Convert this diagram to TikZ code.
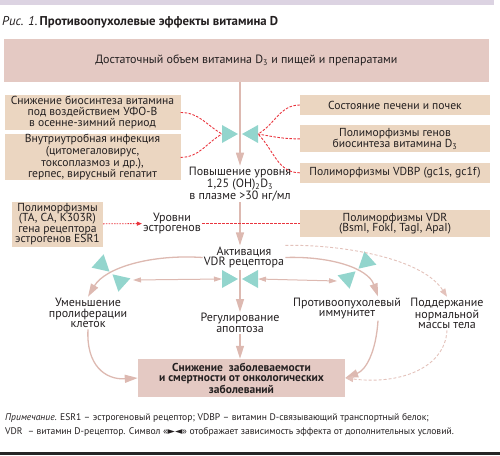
\documentclass[tikz,border=0pt]{standalone}
\usepackage{fontspec}
\setmainfont{PT Sans}
\newfontfamily\symfont{DejaVu Sans}
\usetikzlibrary{arrows.meta, positioning}

\definecolor{pinkbox}{HTML}{E4C9C3}
\definecolor{tanbox}{HTML}{EBD6C1}
\definecolor{arrowcol}{HTML}{DDB9B1}
\definecolor{faintcol}{HTML}{E3C2BB}
\definecolor{tealc}{HTML}{93D5CD}
\definecolor{redc}{HTML}{E9353E}
\definecolor{lilac}{HTML}{DCD3E2}
\definecolor{textc}{HTML}{231F20}

\begin{document}
\begin{tikzpicture}[x=1pt, y=-1pt,
  every node/.style={text=textc},
  box/.style={fill=tanbox, align=center, inner sep=0pt, font=\fontsize{11.6}{10.6}\selectfont},
  mainbox/.style={box, fill=pinkbox},
  txt/.style={align=center, inner sep=1pt, font=\fontsize{12}{10.8}\selectfont},
  arrow/.style={-{Triangle[length=13pt, width=8pt]}, line width=1.3pt, draw=arrowcol},
  twoway/.style={{Triangle[length=8pt, width=5pt]}-{Triangle[length=8pt, width=5pt]}, line width=1pt, draw=arrowcol},
  faint/.style={-{Triangle[length=8pt, width=6pt]}, line width=0.9pt, draw=faintcol, dash pattern=on 3pt off 2pt},
  link/.style={draw=redc, line width=0.9pt, dash pattern=on 2.5pt off 1.5pt},
  bowtie/.pic={
    \fill[tealc] (-18,-9) -- (-2,0) -- (-18,9) -- cycle;
    \fill[tealc] (18,-9) -- (2,0) -- (18,9) -- cycle;
    \coordinate (-l) at (-18,0);
    \coordinate (-r) at (18,0);
  },
]
  \useasboundingbox (0,0) rectangle (500,455);
  \fill[lilac] (0,0) rectangle (494,5);
  \fill[black!85] (0,452) rectangle (500,455);

  \node[anchor=west, inner sep=0pt, font=\fontsize{12.8}{14}\selectfont] (title) at (2,22)
    {\textit{Рис. 1.}\,\textbf{Противоопухолевые эффекты витамина D}};

  % source and modifying factors
  \node[mainbox, minimum width=485pt, minimum height=43pt, font=\fontsize{12}{12}\selectfont] (supply) at (246.5,60.5)
    {Достаточный объем витамина D\textsubscript{3} и пищей и препаратами};
  \node[box, minimum width=176pt, minimum height=35pt] (uvb) at (92.5,112.5)
    {Снижение биосинтеза витамина\\под воздействием УФО-В\\в осенне-зимний период};
  \node[box, minimum width=176pt, minimum height=45pt, below=4pt of uvb] (infect)
    {Внутриутробная инфекция\\(цитомегаловирус,\\токсоплазмоз и др.),\\герпес, вирусный гепатит};
  \node[box, minimum width=190pt, minimum height=20pt] (liver) at (395,105)
    {Состояние печени и почек};
  \node[box, minimum width=190pt, minimum height=27pt, below=10pt of liver] (genes)
    {Полиморфизмы генов\\биосинтеза витамина D\textsubscript{3}};
  \node[box, minimum width=190pt, minimum height=20pt, below=10pt of genes] (vdbp)
    {Полиморфизмы VDBP (gc1s, gc1f)};
  \node[txt, font=\fontsize{12}{11}\selectfont] (calcitriol) at (240,184)
    {Повышение уровня\\1,25 (OH)\textsubscript{2}D\textsubscript{3}\\в плазме >30 нг/мл};

  % receptor level
  \node[box, minimum width=91pt, minimum height=45pt] (esr) at (57.5,224)
    {Полиморфизмы\\(TA, CA, K303R)\\гена рецептора\\эстрогенов ESR1};
  \node[txt, font=\fontsize{12}{10.5}\selectfont] (estro) at (172,223.5) {Уровни\\эстрогенов};
  \node[box, minimum width=190pt, minimum height=27pt] (vdr) at (395,223.5)
    {Полиморфизмы VDR\\(BsmI, FokI, TagI, ApaI)};
  \node[txt] (activ) at (244,257.5) {Активация\\VDR рецептора};

  % effects
  \node[txt] (prolif) at (88,313) {Уменьшение\\пролиферации\\клеток};
  \node[txt] (apopt) at (240,323) {Регулирование\\апоптоза};
  \node[txt] (immun) at (347,308.5) {Противоопухолевый\\иммунитет};
  \node[txt] (weight) at (447,313.5) {Поддержание\\нормальной\\массы тела};
  \node[mainbox, minimum width=207pt, minimum height=38pt, font=\fontsize{11.5}{10.5}\selectfont\bfseries] (outcome) at (241.5,378)
    {Снижение\ \ заболеваемости\\и смертности от онкологических\\заболеваний};

  \node[anchor=north west, inner sep=0pt, align=left, font=\fontsize{9.6}{14}\selectfont] (note) at (5,413)
    {\textit{Примечание.} ESR1 – эстрогеновый рецептор; VDBP – витамин D-связывающий транспортный белок;\\
     VDR~ – витамин D-рецептор. Символ «{\symfont ►◄}» отображает зависимость эффекта от дополнительных условий.};

  % conditional symbols
  \pic (bt1) at (240,134) {bowtie};
  \pic (bt2) at (240,279) {bowtie};
  \pic[rotate=-42] (btL) at (111,273) {bowtie};
  \pic[rotate=42] (btR) at (357,270) {bowtie};
  \coordinate (proLink) at (133,280);
  \coordinate (immLink) at (337,281);

  % main chain
  \draw[arrow] (supply.south -| calcitriol) -- (calcitriol);
  \draw[arrow] (calcitriol.south) -- (calcitriol.south |- activ.north);
  \draw[arrow] (activ.south -| apopt) -- (apopt);
  \draw[arrow] (apopt) -- (apopt |- outcome.north);
  \draw[arrow] (activ.west) .. controls (150,254) and (105,268) .. (prolif.north);
  \draw[arrow] (activ.east) .. controls (330,256) and (368,268) .. ([xshift=31pt]immun.north);
  \draw[faint] (activ.north east) .. controls (330,244) and (420,255) .. (weight.north);
  \draw[arrow] (prolif.south) .. controls (86,365) and (105,380) .. (outcome.west);
  \draw[arrow] ([xshift=31pt]immun.south) .. controls (376,352) and (366,370) .. (outcome.east);
  \draw[faint] (weight.south) .. controls (445,368) and (400,385) .. (outcome.east);
  \draw[twoway] (bt2-l) -- (proLink);
  \draw[twoway] (bt2-r) -- (immLink);

  % modifying influences
  \draw[link] (uvb.east) to[out=0, in=150] (bt1-l);
  \draw[link] (infect.east) to[out=0, in=210] (bt1-l);
  \draw[link] (liver.west) to[out=180, in=30] (bt1-r);
  \draw[link] (genes.west) to[out=180, in=-10] (bt1-r);
  \draw[link] (vdbp.west) to[out=180, in=-45] (bt1-r);
  \draw[link, dash pattern=on 1.5pt off 1.2pt, -{Triangle[length=5pt, width=4pt]}] (esr) -- (estro);
  \draw[link] (estro) -- (vdr);
\end{tikzpicture}
\end{document}
